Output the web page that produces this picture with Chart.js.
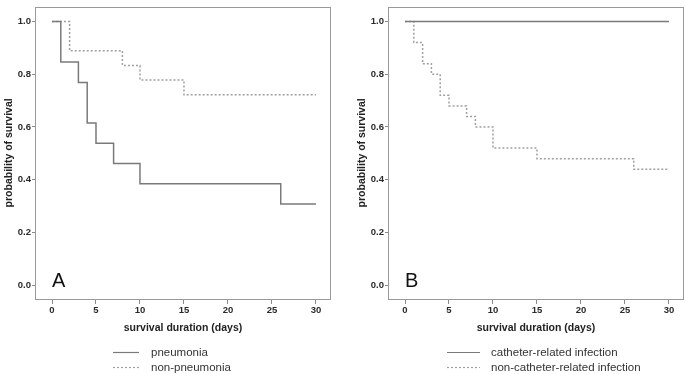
<!DOCTYPE html>
<html>
<head>
<meta charset="utf-8">
<script src="https://cdn.jsdelivr.net/npm/chart.js@4.4.1/dist/chart.umd.min.js"></script>
<style>
  body { margin: 0; background: #fff; width: 685px; height: 374px; position: relative; overflow: hidden; }
  .panel { position: absolute; top: 0; }
</style>
</head>
<body>
<canvas id="chart-a" class="panel" style="left:0" width="332" height="374"></canvas>
<canvas id="chart-b" class="panel" style="left:353px" width="332" height="374"></canvas>
<script>
// tick labels
const xTicks = [0, 5, 10, 15, 20, 25, 30];
const yTicks = [0, 0.2, 0.4, 0.6, 0.8, 1.0];

// panel A - Kaplan-Meier steps (day, survival after the step)
const pneumoniaDays = [0, 1, 3, 4, 5, 7, 10, 26, 30];
const pneumoniaSurv = [1, 0.846, 0.769, 0.615, 0.538, 0.462, 0.385, 0.308, 0.308];
const nonPneumoniaDays = [0, 2, 8, 10, 15, 30];
const nonPneumoniaSurv = [1, 0.889, 0.833, 0.778, 0.722, 0.722];

// panel B
const catheterDays = [0, 30];
const catheterSurv = [1, 1];
const nonCatheterDays = [0, 1, 2, 3, 4, 5, 7, 8, 10, 15, 26, 30];
const nonCatheterSurv = [1, 0.92, 0.84, 0.80, 0.72, 0.68, 0.64, 0.60, 0.52, 0.48, 0.44, 0.44];

Chart.defaults.font.family = "'Liberation Sans', Arial, sans-serif";

function toPoints(days, surv) {
    return days.map((d, i) => ({ x: d, y: surv[i] }));
}

// box around plot, panel letter and the legend under the axis
const decor = {
    id: 'decor',
    afterDraw(chart, args, opts) {
        const ctx = chart.ctx;
        const a = chart.chartArea;
        ctx.save();
        ctx.strokeStyle = '#9a9a9a';
        ctx.lineWidth = 1;
        ctx.strokeRect(Math.round(a.left) - 0.5, Math.round(a.top) + 0.5,
            Math.round(a.right - a.left) + 1, Math.round(a.bottom - a.top));

        ctx.fillStyle = '#111';
        ctx.font = "20px 'Liberation Sans', Arial, sans-serif";
        ctx.textBaseline = 'alphabetic';
        ctx.fillText(opts.letter, a.left + 16, a.bottom - 12);

        ctx.font = "11.5px 'Liberation Sans', Arial, sans-serif";
        ctx.textBaseline = 'middle';
        chart.data.datasets.forEach((ds, i) => {
            const y = opts.rows[i] + 0.5;
            ctx.strokeStyle = ds.borderColor;
            ctx.lineWidth = 1.2;
            ctx.setLineDash(ds.borderDash || []);
            ctx.beginPath();
            ctx.moveTo(opts.lineX, y);
            ctx.lineTo(opts.lineX + opts.lineLen, y);
            ctx.stroke();
            ctx.setLineDash([]);
            ctx.fillStyle = '#333';
            ctx.fillText(ds.label, opts.textX, y);
        });
        ctx.restore();
    }
};

function makePanel(canvas, letter, datasets, legend) {
    return new Chart(canvas.getContext('2d'), {
        type: 'line',
        data: { datasets: datasets },
        options: {
            responsive: false,
            animation: false,
            layout: { padding: { top: 2, right: 2, bottom: 40, left: 0 } },
            elements: { point: { radius: 0 }, line: { stepped: 'before', tension: 0 } },
            plugins: {
                legend: { display: false },
                tooltip: { enabled: false },
                decor: { letter: letter, rows: [352, 367], lineX: legend.lineX, lineLen: legend.lineLen, textX: legend.textX }
            },
            scales: {
                x: {
                    type: 'linear',
                    min: -1.82,
                    max: 31.6,
                    afterBuildTicks: s => { s.ticks = xTicks.map(v => ({ value: v })); },
                    afterFit: s => { s.height = 35; },
                    grid: { drawOnChartArea: false, drawTicks: true, tickLength: 5, color: '#8a8a8a' },
                    border: { display: false },
                    ticks: { padding: 1, autoSkip: false, maxRotation: 0, color: '#2a2a2a', font: { size: 9.5, weight: 'bold' } },
                    title: { display: true, text: 'survival duration (days)', color: '#222',
                        font: { size: 10.5, weight: 'bold' }, padding: { top: 0, bottom: 0 } }
                },
                y: {
                    min: -0.052,
                    max: 1.056,
                    afterBuildTicks: s => { s.ticks = yTicks.map(v => ({ value: v })); },
                    afterFit: s => { s.width = 36; },
                    grid: { drawOnChartArea: false, drawTicks: true, tickLength: 4, color: '#8a8a8a' },
                    border: { display: false },
                    ticks: { padding: 1, color: '#2a2a2a', font: { size: 9.5, weight: 'bold' }, callback: v => v.toFixed(1) },
                    title: { display: true, text: 'probability of survival', color: '#222',
                        font: { size: 10.5, weight: 'bold' }, padding: { top: 3, bottom: 0 } }
                }
            }
        },
        plugins: [decor]
    });
}

makePanel(document.querySelector('#chart-a'), 'A', [
    {
        label: 'pneumonia',
        data: toPoints(pneumoniaDays, pneumoniaSurv),
        borderColor: '#7a7a7a',
        borderWidth: 1.5
    },
    {
        label: 'non-pneumonia',
        data: toPoints(nonPneumoniaDays, nonPneumoniaSurv),
        borderColor: '#a0a0a0',
        borderWidth: 1.5,
        borderDash: [2, 2]
    }
], { lineX: 113, lineLen: 26, textX: 151 });

makePanel(document.querySelector('#chart-b'), 'B', [
    {
        label: 'catheter-related infection',
        data: toPoints(catheterDays, catheterSurv),
        borderColor: '#7a7a7a',
        borderWidth: 1.5
    },
    {
        label: 'non-catheter-related infection',
        data: toPoints(nonCatheterDays, nonCatheterSurv),
        borderColor: '#a0a0a0',
        borderWidth: 1.5,
        borderDash: [2, 2]
    }
], { lineX: 94, lineLen: 33, textX: 138 });
</script>
</body>
</html>
